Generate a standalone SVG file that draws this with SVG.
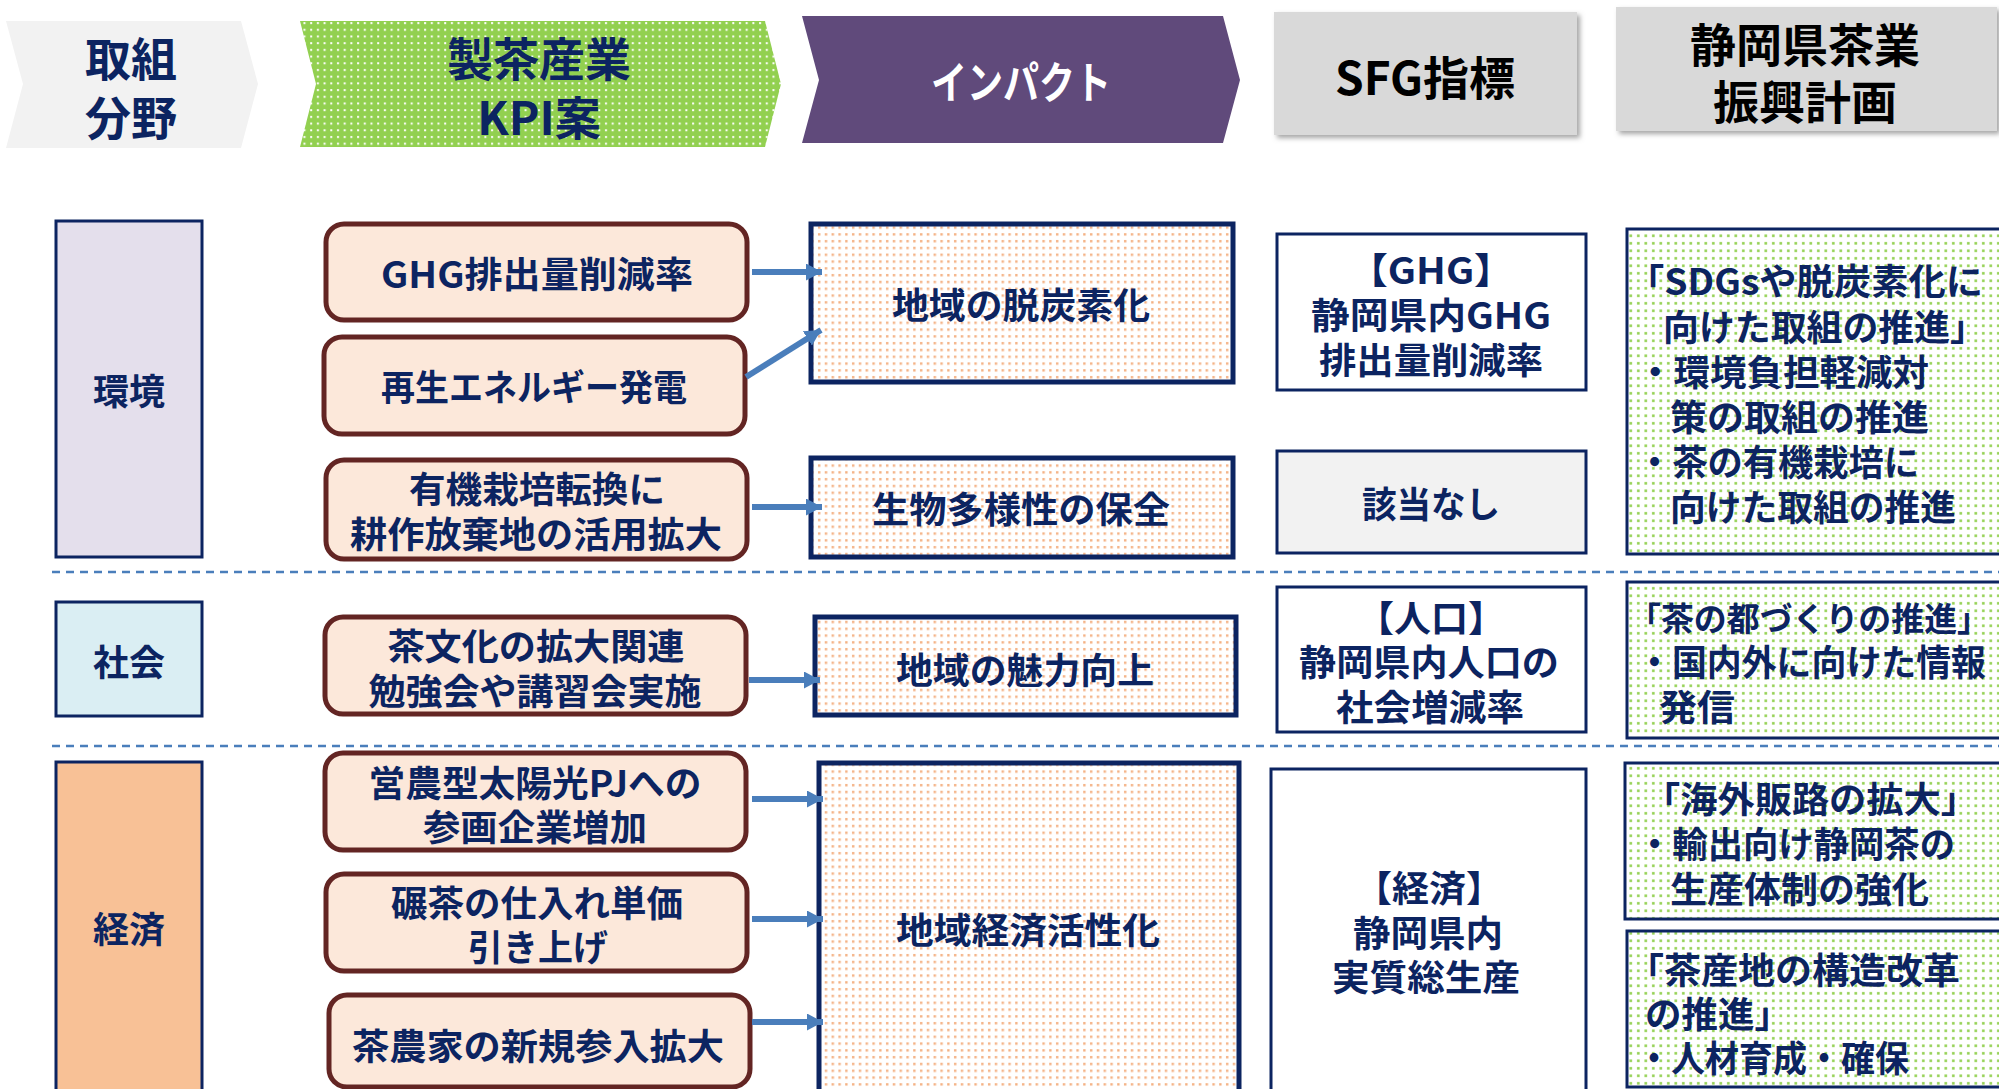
<svg xmlns="http://www.w3.org/2000/svg" width="1999" height="1089" viewBox="0 0 1999 1089">
<defs>
<style>
.t{font-family:"Noto Sans CJK JP","Noto Sans",sans-serif;font-weight:700;fill:#0C2461;dominant-baseline:central}
.c{text-anchor:middle}
.h{font-size:46px}
.b{font-size:36px}
.kpi{fill:#FCE8DA;stroke:#632523;stroke-width:5}
.imp{fill:url(#orangeDots);stroke:#0C2461;stroke-width:5}
.cat{stroke:#0C2461;stroke-width:3}
.sfg{fill:#FFFFFF;stroke:#0C2461;stroke-width:3}
.plan{fill:url(#greenDots);stroke:#0C2461;stroke-width:3}
.arr{stroke:#4A7EBB;stroke-width:6;fill:none;marker-end:url(#ah)}
.sep{stroke:#4A7EBB;stroke-width:2.5;stroke-dasharray:8 6;fill:none}
</style>
<pattern id="orangeDots" width="6.8" height="6.8" patternUnits="userSpaceOnUse">
<rect width="6.8" height="6.8" fill="#FFFFFF"/>
<rect x="2" y="2" width="2.4" height="2.4" fill="#F4B183"/>
</pattern>
<pattern id="greenDots" width="7.5" height="7.5" patternUnits="userSpaceOnUse">
<rect width="7.5" height="7.5" fill="#FFFFFF"/>
<rect x="2" y="2" width="2.6" height="2.6" fill="#92D050"/>
</pattern>
<pattern id="greenHead" width="6.7" height="6.7" patternUnits="userSpaceOnUse">
<rect width="6.7" height="6.7" fill="#92D050"/>
<rect x="2" y="2" width="2" height="2" fill="#FFFFFF"/>
</pattern>
<marker id="ah" markerUnits="userSpaceOnUse" markerWidth="16" markerHeight="17" refX="16" refY="8.5" orient="auto">
<path d="M0,0 L16,8.5 L0,17 Z" fill="#4A7EBB"/>
</marker>
<filter id="sh" x="-5%" y="-10%" width="115%" height="130%">
<feDropShadow dx="3" dy="3" stdDeviation="2.5" flood-color="#7F7F7F" flood-opacity="0.7"/>
</filter>
</defs>
<rect width="1999" height="1089" fill="#FFFFFF"/>

<!-- Header row -->
<g id="head-area">
<polygon points="6,21 241,21 258,84 241,148 6,148 23,84" fill="#F2F2F2"/>
<text class="t c h" x="131" y="56">取組</text>
<text class="t c h" x="131" y="115">分野</text>
</g>
<g id="head-kpi">
<polygon points="300,21 765,21 781,84 765,147 300,147 316,84" fill="url(#greenHead)"/>
<text class="t c h" x="539" y="56">製茶産業</text>
<text class="t c h" x="539" y="115">KPI案</text>
</g>
<g id="head-impact">
<polygon points="802,16 1223,16 1240,80 1223,143 802,143 819,80" fill="#604A7B"/>
<text class="t c" x="1021" y="80" style="fill:#FFFFFF;font-size:44px" textLength="180" lengthAdjust="spacingAndGlyphs">インパクト</text>
</g>
<g id="head-sfg">
<rect x="1274" y="12" width="303" height="123" fill="#D9D9D9" filter="url(#sh)"/>
<text class="t c h" x="1425" y="75" style="fill:#000000">SFG指標</text>
</g>
<g id="head-plan">
<rect x="1616" y="7" width="381" height="124" fill="#D9D9D9" filter="url(#sh)"/>
<text class="t c h" x="1805" y="42" style="fill:#000000">静岡県茶業</text>
<text class="t c h" x="1805" y="99" style="fill:#000000">振興計画</text>
</g>

<!-- Separators -->
<g id="separators">
<line class="sep" x1="52" y1="572" x2="1999" y2="572"/>
<line class="sep" x1="52" y1="746" x2="1999" y2="746"/>
</g>

<!-- Categories -->
<g id="cat-env">
<rect class="cat" x="56" y="221" width="146" height="336" fill="#E4DFEC"/>
<text class="t c b" x="129" y="389">環境</text>
</g>
<g id="cat-soc">
<rect class="cat" x="56" y="602" width="146" height="114" fill="#DAEEF3"/>
<text class="t c b" x="129" y="660">社会</text>
</g>
<g id="cat-eco">
<rect class="cat" x="56" y="762" width="146" height="340" fill="#F8C196"/>
<text class="t c b" x="129" y="927">経済</text>
</g>

<!-- KPI boxes -->
<g id="kpi-ghg">
<rect class="kpi" x="326" y="224" width="421" height="96" rx="18"/>
<text class="t c b" x="537" y="272" textLength="312" lengthAdjust="spacingAndGlyphs">GHG排出量削減率</text>
</g>
<g id="kpi-renew">
<rect class="kpi" x="324" y="337" width="421" height="97" rx="18"/>
<text class="t c b" x="534" y="385" textLength="306" lengthAdjust="spacingAndGlyphs">再生エネルギー発電</text>
</g>
<g id="kpi-organic">
<rect class="kpi" x="326" y="460" width="421" height="99" rx="18"/>
<text class="t c b" x="537" y="487" textLength="256" lengthAdjust="spacingAndGlyphs">有機栽培転換に</text>
<text class="t c b" x="536" y="532" textLength="372" lengthAdjust="spacingAndGlyphs">耕作放棄地の活用拡大</text>
</g>
<g id="kpi-culture">
<rect class="kpi" x="325" y="617" width="421" height="97" rx="18"/>
<text class="t c b" x="536" y="644" textLength="297" lengthAdjust="spacingAndGlyphs">茶文化の拡大関連</text>
<text class="t c b" x="535" y="689" textLength="333" lengthAdjust="spacingAndGlyphs">勉強会や講習会実施</text>
</g>
<g id="kpi-solar">
<rect class="kpi" x="325" y="753" width="421" height="97" rx="18"/>
<text class="t c b" x="535" y="781" textLength="333" lengthAdjust="spacingAndGlyphs">営農型太陽光PJへの</text>
<text class="t c b" x="535" y="825" textLength="224" lengthAdjust="spacingAndGlyphs">参画企業増加</text>
</g>
<g id="kpi-tencha">
<rect class="kpi" x="326" y="874" width="421" height="97" rx="18"/>
<text class="t c b" x="537" y="901" textLength="292" lengthAdjust="spacingAndGlyphs">碾茶の仕入れ単価</text>
<text class="t c b" x="538" y="945" textLength="140" lengthAdjust="spacingAndGlyphs">引き上げ</text>
</g>
<g id="kpi-farmers">
<rect class="kpi" x="329" y="995" width="421" height="92" rx="18"/>
<text class="t c b" x="538" y="1044" textLength="372" lengthAdjust="spacingAndGlyphs">茶農家の新規参入拡大</text>
</g>

<!-- Impact boxes -->
<g id="imp-decarbon">
<rect class="imp" x="811" y="224" width="422" height="158"/>
<text class="t c b" x="1021" y="303" textLength="258" lengthAdjust="spacingAndGlyphs">地域の脱炭素化</text>
</g>
<g id="imp-bio">
<rect class="imp" x="811" y="458" width="422" height="99"/>
<text class="t c b" x="1021" y="507" textLength="298" lengthAdjust="spacingAndGlyphs">生物多様性の保全</text>
</g>
<g id="imp-attract">
<rect class="imp" x="815" y="617" width="421" height="98"/>
<text class="t c b" x="1025" y="668" textLength="258" lengthAdjust="spacingAndGlyphs">地域の魅力向上</text>
</g>
<g id="imp-economy">
<rect class="imp" x="819" y="763" width="420" height="340"/>
<text class="t c b" x="1028" y="928" textLength="264" lengthAdjust="spacingAndGlyphs">地域経済活性化</text>
</g>

<!-- SFG boxes -->
<g id="sfg-ghg">
<rect class="sfg" x="1277" y="234" width="309" height="156"/>
<text class="t c b" x="1431" y="268" textLength="165" lengthAdjust="spacingAndGlyphs">【GHG】</text>
<text class="t c b" x="1431" y="313" textLength="240" lengthAdjust="spacingAndGlyphs">静岡県内GHG</text>
<text class="t c b" x="1431" y="358" textLength="224" lengthAdjust="spacingAndGlyphs">排出量削減率</text>
</g>
<g id="sfg-none">
<rect class="sfg" x="1277" y="451" width="309" height="102" style="fill:#F2F2F2"/>
<text class="t c b" x="1431" y="502" textLength="138" lengthAdjust="spacingAndGlyphs">該当なし</text>
</g>
<g id="sfg-pop">
<rect class="sfg" x="1277" y="587" width="309" height="145"/>
<text class="t c b" x="1431" y="616" textLength="148" lengthAdjust="spacingAndGlyphs">【人口】</text>
<text class="t c b" x="1429" y="660" textLength="260" lengthAdjust="spacingAndGlyphs">静岡県内人口の</text>
<text class="t c b" x="1430" y="705" textLength="188" lengthAdjust="spacingAndGlyphs">社会増減率</text>
</g>
<g id="sfg-eco">
<rect class="sfg" x="1271" y="769" width="315" height="340"/>
<text class="t c b" x="1429" y="886" textLength="148" lengthAdjust="spacingAndGlyphs">【経済】</text>
<text class="t c b" x="1428" y="931" textLength="150" lengthAdjust="spacingAndGlyphs">静岡県内</text>
<text class="t c b" x="1426" y="975" textLength="188" lengthAdjust="spacingAndGlyphs">実質総生産</text>
</g>

<!-- Plan boxes -->
<g id="plan-sdgs">
<rect class="plan" x="1627" y="229" width="380" height="325"/>
<text class="t b" x="1627" y="279" textLength="356" lengthAdjust="spacingAndGlyphs">「SDGsや脱炭素化に</text>
<text class="t b" x="1663" y="325" textLength="323" lengthAdjust="spacingAndGlyphs">向けた取組の推進」</text>
<text class="t b" x="1637" y="370" textLength="292" lengthAdjust="spacingAndGlyphs">・環境負担軽減対</text>
<text class="t b" x="1670" y="415" textLength="259" lengthAdjust="spacingAndGlyphs">策の取組の推進</text>
<text class="t b" x="1637" y="460" textLength="282" lengthAdjust="spacingAndGlyphs">・茶の有機栽培に</text>
<text class="t b" x="1670" y="505" textLength="286" lengthAdjust="spacingAndGlyphs">向けた取組の推進</text>
</g>
<g id="plan-city">
<rect class="plan" x="1627" y="582" width="380" height="156"/>
<text class="t" x="1628" y="616" style="font-size:33.5px" textLength="362" lengthAdjust="spacingAndGlyphs">「茶の都づくりの推進」</text>
<text class="t b" x="1637" y="660" textLength="349" lengthAdjust="spacingAndGlyphs">・国内外に向けた情報</text>
<text class="t b" x="1659" y="705" textLength="76" lengthAdjust="spacingAndGlyphs">発信</text>
</g>
<g id="plan-export">
<rect class="plan" x="1625" y="763" width="382" height="156"/>
<text class="t b" x="1643" y="797" textLength="335" lengthAdjust="spacingAndGlyphs">「海外販路の拡大」</text>
<text class="t b" x="1637" y="842" textLength="318" lengthAdjust="spacingAndGlyphs">・輸出向け静岡茶の</text>
<text class="t b" x="1670" y="887" textLength="259" lengthAdjust="spacingAndGlyphs">生産体制の強化</text>
</g>
<g id="plan-structure">
<rect class="plan" x="1627" y="931" width="380" height="156"/>
<text class="t b" x="1627" y="968" textLength="333" lengthAdjust="spacingAndGlyphs">「茶産地の構造改革</text>
<text class="t b" x="1645" y="1012" textLength="146" lengthAdjust="spacingAndGlyphs">の推進」</text>
<text class="t b" x="1637" y="1056" textLength="272" lengthAdjust="spacingAndGlyphs">・人材育成・確保</text>
</g>

<!-- Connectors -->
<g id="connectors">
<line class="arr" x1="752" y1="272" x2="822" y2="272"/>
<line class="arr" x1="746" y1="377" x2="821" y2="330"/>
<line class="arr" x1="752" y1="507" x2="822" y2="507"/>
<line class="arr" x1="749" y1="680" x2="820" y2="680"/>
<line class="arr" x1="752" y1="799" x2="823" y2="799"/>
<line class="arr" x1="752" y1="919" x2="823" y2="919"/>
<line class="arr" x1="752" y1="1022" x2="823" y2="1022"/>
</g>
</svg>
